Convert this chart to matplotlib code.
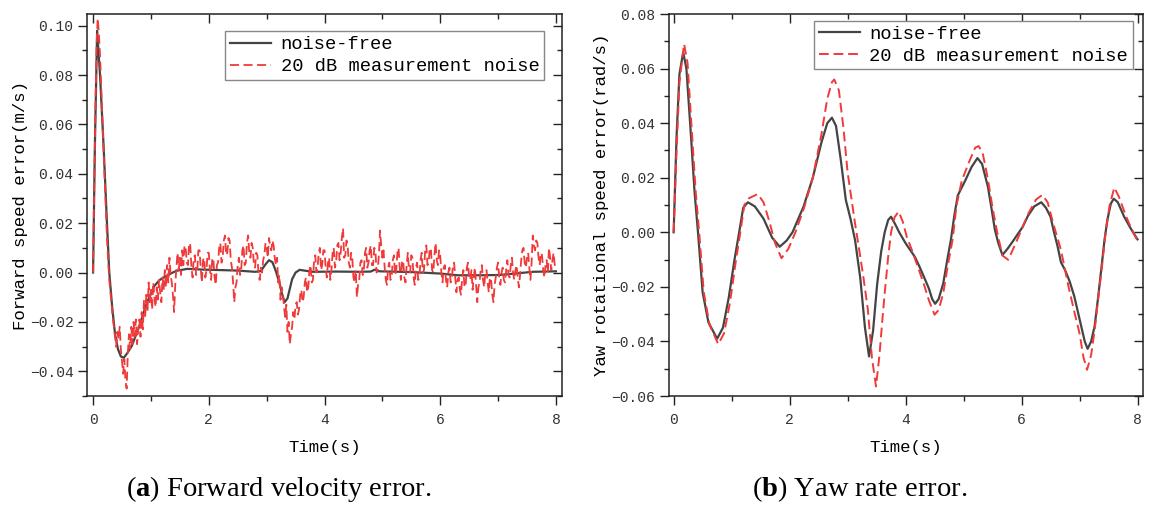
import matplotlib
matplotlib.use('Agg')
import matplotlib.pyplot as plt
import numpy as np
from matplotlib.ticker import MultipleLocator

# ---- (a) forward speed error ----
fwd_clean_t = [0, 0.03, 0.07, 0.12, 0.18, 0.24, 0.28, 0.33, 0.38, 0.43, 0.48, 0.53, 0.58, 0.67,
               0.8, 0.93, 1.06, 1.15, 1.25, 1.35, 1.44, 1.63, 1.9, 2.2, 2.5, 2.8, 2.9, 2.97, 3.04,
               3.1, 3.16, 3.22, 3.27, 3.31, 3.36, 3.44, 3.5, 3.57, 3.65, 3.8, 4.2, 4.6, 4.8, 4.87,
               4.95, 5.5, 6.0, 6.3, 6.7, 7.0, 7.3, 7.6, 8.0]
fwd_clean = [0, 0.05, 0.098, 0.08, 0.052, 0.02, 0.0, -0.014, -0.025, -0.031, -0.034, -0.0345,
             -0.033, -0.0297, -0.0216, -0.0122, -0.0054, -0.003, -0.0016, -0.0003, 0.0007, 0.0015,
             0.0012, 0.001, 0.0008, 0.0003, 0.0006, 0.003, 0.005, 0.0042, 0.0005, -0.004, -0.009,
             -0.012, -0.0105, -0.0027, 0.0, 0.0011, 0.0008, 0.0003, 0.0004, 0.0003, 0.0004, 0.0012,
             0.0005, 0.0002, -0.0004, -0.0011, -0.0011, -0.0010, -0.0004, 0.0003, 0.0005]

# sampled every 0.02 s from 0 to 8 s (one row = 0.4 s)
fwd_noisy = [
    0.000, 0.035, 0.065, 0.092, 0.103, 0.097, 0.088, 0.076, 0.063, 0.050, 0.038, 0.026, 0.014, 0.005, -0.003, -0.008, -0.013, -0.018, -0.022, -0.026,
    -0.030, -0.024, -0.027, -0.022, -0.031, -0.036, -0.041, -0.035, -0.044, -0.047, -0.033, -0.025, -0.031, -0.022, -0.029, -0.020, -0.026, -0.019, -0.029, -0.023,
    -0.019, -0.026, -0.016, -0.023, -0.011, -0.018, -0.009, -0.016, -0.004, -0.012, -0.007, -0.015, -0.004, -0.010, -0.014, -0.006, -0.011, -0.003, -0.008, -0.012,
    -0.002, -0.007, 0.001, -0.006, 0.003, -0.004, 0.006, -0.001, -0.004, -0.009, -0.016, -0.005, 0.002, 0.008, 0.001, 0.006, -0.001, 0.009, 0.003, 0.011,
    0.010, 0.004, 0.003, 0.012, 0.011, 0.002, -0.002, 0.006, 0.007, -0.001, 0.000, 0.009, 0.009, 0.002, -0.004, 0.005, 0.006, -0.002, 0.001, 0.008,
    0.008, 0.001, -0.003, 0.006, 0.005, -0.002, -0.005, 0.003, 0.004, 0.010, 0.012, 0.004, 0.006, 0.013, 0.015, 0.007, 0.008, 0.014, 0.013, 0.005,
    0.002, -0.004, -0.012, -0.006, -0.004, 0.003, 0.006, -0.001, 0.001, 0.009, 0.011, 0.003, 0.004, 0.012, 0.015, 0.008, 0.006, 0.012, 0.010, 0.003,
    0.002, 0.008, 0.007, -0.001, -0.003, 0.002, 0.000, 0.005, 0.007, 0.012, 0.010, 0.006, 0.014, 0.011, 0.009, 0.013, 0.011, 0.006, 0.003, 0.006,
    -0.004, -0.001, -0.011, -0.006, -0.008, -0.014, -0.018, -0.013, -0.024, -0.020, -0.029, -0.025, -0.022, -0.016, -0.019, -0.013, -0.012, -0.017, -0.015, -0.009,
    -0.007, -0.012, -0.010, -0.004, -0.002, -0.008, -0.006, 0.001, 0.003, -0.004, -0.003, 0.005, 0.007, 0.000, 0.002, 0.008, 0.010, 0.001, 0.003, 0.009,
    0.009, 0.002, -0.002, 0.004, 0.006, -0.003, 0.001, 0.008, 0.010, 0.002, 0.004, 0.011, 0.012, 0.005, 0.008, 0.014, 0.018, 0.006, 0.007, 0.013,
    0.011, 0.004, 0.002, 0.008, 0.006, -0.002, -0.004, 0.001, -0.010, -0.005, -0.003, 0.004, 0.005, -0.001, 0.001, 0.008, 0.010, 0.002, 0.004, 0.009,
    0.011, 0.003, 0.003, 0.010, 0.009, 0.000, 0.001, 0.007, 0.017, 0.011, 0.006, 0.009, 0.002, -0.003, -0.005, 0.002, 0.004, -0.003, -0.002, 0.005,
    0.007, -0.001, 0.001, 0.008, 0.010, 0.002, -0.003, 0.004, 0.005, -0.002, -0.004, 0.003, 0.008, 0.001, 0.000, 0.007, 0.006, -0.002, -0.005, 0.002,
    0.004, -0.003, -0.002, 0.005, 0.008, 0.000, 0.001, 0.009, 0.011, 0.003, 0.004, 0.010, 0.009, 0.001, 0.000, 0.007, 0.012, 0.005, 0.003, 0.009,
    0.007, 0.000, -0.004, 0.002, 0.003, -0.003, -0.006, 0.000, 0.002, -0.004, -0.003, 0.003, 0.004, -0.002, -0.008, -0.003, -0.002, -0.007, -0.009, -0.002,
    0.001, -0.006, -0.005, 0.002, 0.004, -0.002, -0.003, 0.001, -0.007, -0.002, 0.002, -0.005, -0.012, -0.006, -0.004, 0.001, 0.003, -0.003, -0.006, 0.000,
    0.001, -0.004, -0.008, -0.002, -0.003, -0.009, -0.012, -0.005, -0.002, 0.002, 0.004, -0.002, -0.005, 0.000, 0.002, -0.003, -0.004, 0.001, 0.005, -0.001,
    -0.002, 0.003, 0.006, 0.000, -0.003, 0.001, 0.003, -0.002, -0.006, -0.001, 0.005, 0.009, 0.010, 0.004, 0.002, 0.006, 0.008, 0.002, -0.003, 0.004,
    0.015, 0.011, 0.009, 0.013, 0.012, 0.006, 0.003, 0.008, 0.007, 0.001, -0.002, 0.003, 0.005, 0.000, 0.010, 0.006, 0.001, 0.005, 0.008, 0.003,
    0.004,
]

# ---- (b) yaw rate error ----
yaw_clean_t = [0, 0.05, 0.1, 0.165, 0.22, 0.3, 0.36, 0.42, 0.5, 0.6, 0.75, 0.85, 0.95, 1.05, 1.13,
               1.2, 1.28, 1.4, 1.55, 1.7, 1.83, 1.95, 2.05, 2.24, 2.4, 2.55, 2.65, 2.73, 2.8, 2.88,
               2.97, 3.05, 3.13, 3.22, 3.3, 3.37, 3.44, 3.51, 3.58, 3.64, 3.7, 3.75, 3.82, 3.89,
               4.0, 4.08, 4.16, 4.24, 4.32, 4.4, 4.46, 4.51, 4.57, 4.65, 4.72, 4.78, 4.84, 4.9,
               5.03, 5.14, 5.24, 5.32, 5.42, 5.48, 5.54, 5.6, 5.67, 5.76, 5.86, 6.02, 6.11, 6.22,
               6.34, 6.42, 6.5, 6.56, 6.62, 6.68, 6.75, 6.83, 6.91, 6.97, 7.03, 7.09, 7.14, 7.2,
               7.26, 7.32, 7.38, 7.43, 7.48, 7.54, 7.59, 7.66, 7.77, 7.88, 8.0]
yaw_clean = [0, 0.035, 0.058, 0.066, 0.06, 0.035, 0.015, 0.0, -0.022, -0.033, -0.039, -0.035,
             -0.024, -0.010, 0.0, 0.009, 0.011, 0.0095, 0.005, -0.002, -0.0053, -0.003, 0.0,
             0.0094, 0.020, 0.033, 0.040, 0.042, 0.039, 0.027, 0.0118, 0.005, -0.003, -0.017,
             -0.035, -0.0455, -0.036, -0.019, -0.007, 0.0, 0.0045, 0.0057, 0.003, 0.0, -0.004,
             -0.0065, -0.009, -0.0126, -0.0165, -0.0205, -0.0245, -0.0262, -0.0245, -0.0187,
             -0.010, -0.003, 0.006, 0.0135, 0.019, 0.024, 0.0272, 0.025, 0.0167, 0.009, 0.001,
             -0.004, -0.0083, -0.006, -0.003, 0.002, 0.006, 0.0095, 0.011, 0.009, 0.0057, 0.0,
             -0.005, -0.011, -0.0138, -0.018, -0.0235, -0.029, -0.0345, -0.040, -0.0427, -0.040,
             -0.0345, -0.024, -0.0126, -0.003, 0.0045, 0.0105, 0.0123, 0.011, 0.0057, 0.0015,
             -0.0026]

yaw_noisy_t = [0, 0.05, 0.1, 0.18, 0.24, 0.32, 0.38, 0.44, 0.52, 0.62, 0.77, 0.87, 0.97, 1.07,
               1.15, 1.22, 1.3, 1.45, 1.55, 1.65, 1.75, 1.86, 1.98, 2.1, 2.25, 2.4, 2.55, 2.65,
               2.73, 2.77, 2.85, 2.93, 3.0, 3.07, 3.13, 3.19, 3.27, 3.35, 3.42, 3.49, 3.55, 3.6,
               3.64, 3.7, 3.75, 3.81, 3.88, 3.95, 4.02, 4.1, 4.21, 4.3, 4.4, 4.5, 4.57, 4.65,
               4.73, 4.81, 4.88, 4.97, 5.1, 5.2, 5.26, 5.33, 5.42, 5.5, 5.58, 5.67, 5.77, 5.9,
               6.02, 6.12, 6.25, 6.36, 6.45, 6.55, 6.68, 6.81, 6.92, 7.0, 7.07, 7.13, 7.2, 7.26,
               7.32, 7.39, 7.45, 7.52, 7.6, 7.68, 7.8, 7.9, 8.0]
yaw_noisy = [0, 0.03, 0.055, 0.069, 0.062, 0.035, 0.015, 0.0, -0.022, -0.034, -0.041, -0.037,
             -0.026, -0.011, 0.0, 0.010, 0.0125, 0.014, 0.011, 0.004, -0.004, -0.0095, -0.006,
             0.0, 0.009, 0.020, 0.036, 0.049, 0.055, 0.056, 0.052, 0.038, 0.022, 0.0118, 0.003,
             -0.005, -0.016, -0.0284, -0.046, -0.0565, -0.045, -0.032, -0.0223, -0.009, 0.0,
             0.0055, 0.0076, 0.004, -0.0016, -0.006, -0.0126, -0.018, -0.0248, -0.0302, -0.0285,
             -0.0223, -0.012, -0.0028, 0.010, 0.019, 0.026, 0.031, 0.0316, 0.029, 0.0195, 0.009,
             0.0, -0.0085, -0.0101, -0.004, 0.002, 0.007, 0.012, 0.0137, 0.011, 0.003, -0.0065,
             -0.0199, -0.030, -0.037, -0.046, -0.0504, -0.045, -0.036, -0.0248, -0.012, 0.0,
             0.010, 0.0164, 0.013, 0.006, 0.001, -0.003]

legend_labels = ['noise-free', '20 dB measurement noise']
CLEAN_COLOR = '#444444'
NOISY_COLOR = '#f03a3a'
MONO = ['Liberation Mono', 'DejaVu Sans Mono']

plt.rcParams['mathtext.fontset'] = 'custom'
plt.rcParams['mathtext.rm'] = 'Liberation Serif'
plt.rcParams['mathtext.bf'] = 'Liberation Serif:bold'


def style_axes(ax, ymajor, yminor):
    ax.xaxis.set_major_locator(MultipleLocator(2))
    ax.xaxis.set_minor_locator(MultipleLocator(1))
    ax.yaxis.set_major_locator(MultipleLocator(ymajor))
    ax.yaxis.set_minor_locator(MultipleLocator(yminor))
    ax.tick_params(which='both', top=True, right=True, width=1.0, colors='#222222',
                   labelcolor='#333333', labelsize=10.5)
    ax.tick_params(which='major', length=6.5)
    ax.tick_params(which='minor', length=3.5)
    ax.tick_params(axis='x', which='major', pad=6)
    for t in ax.get_xticklabels() + ax.get_yticklabels():
        t.set_family(MONO)
    # top/right ticks point inward, bottom/left outward
    for tl in ax.xaxis.get_major_ticks() + ax.xaxis.get_minor_ticks():
        tl.tick2line.set_marker(3)
    for tl in ax.yaxis.get_major_ticks() + ax.yaxis.get_minor_ticks():
        tl.tick2line.set_marker(0)
    for s in ax.spines.values():
        s.set_linewidth(1.1)
        s.set_color('#222222')


def add_legend(ax, anchor):
    ax.legend(loc='upper right', bbox_to_anchor=anchor, prop={'family': MONO, 'size': 13.5},
              frameon=True, fancybox=False, edgecolor='#888888', framealpha=1,
              handlelength=2.2, handletextpad=0.5, labelspacing=0.25, borderpad=0.25,
              borderaxespad=0)


fig = plt.figure(figsize=(11.52, 5.13), dpi=100)
ax1 = fig.add_axes([87.3 / 1152, 117 / 513, 474.4 / 1152, 381.7 / 513])
ax2 = fig.add_axes([669 / 1152, 117 / 513, 474.3 / 1152, 382 / 513])

t_noisy = np.linspace(0, 8, len(fwd_noisy))
ax1.plot(fwd_clean_t, fwd_clean, color=CLEAN_COLOR, lw=1.6, label=legend_labels[0])
ax1.plot(t_noisy, fwd_noisy, color=NOISY_COLOR, lw=1.3, ls=(0, (5, 2.5)), label=legend_labels[1])
ax1.set_xlim(-0.1, 8.1)
ax1.set_ylim(-0.05, 0.1046)
style_axes(ax1, 0.02, 0.01)
ax1.set_xlabel('Time(s)', family=MONO, fontsize=12.5, labelpad=9)
ax1.set_ylabel('Forward speed error(m/s)', family=MONO, fontsize=12.5, labelpad=1)
add_legend(ax1, (0.963, 0.955))

ax2.plot(yaw_clean_t, yaw_clean, color=CLEAN_COLOR, lw=1.6, label=legend_labels[0])
ax2.plot(yaw_noisy_t, yaw_noisy, color=NOISY_COLOR, lw=1.4, ls=(0, (5, 2.5)), label=legend_labels[1])
ax2.set_xlim(-0.08, 8.1)
ax2.set_ylim(-0.06, 0.08)
style_axes(ax2, 0.02, 0.01)
ax2.set_xlabel('Time(s)', family=MONO, fontsize=12.5, labelpad=9)
ax2.set_ylabel('Yaw rotational speed error(rad/s)', family=MONO, fontsize=12.5, labelpad=2)
add_legend(ax2, (0.978, 0.982))

fig.text(279 / 1152, 1 - 489 / 513, r'($\mathbf{a}$) Forward velocity error.', ha='center',
         va='center', fontsize=20.5, family='Liberation Serif')
fig.text(860 / 1152, 1 - 489 / 513, r'($\mathbf{b}$) Yaw rate error.', ha='center',
         va='center', fontsize=20.5, family='Liberation Serif')

fig.savefig('out.png', dpi=100)
